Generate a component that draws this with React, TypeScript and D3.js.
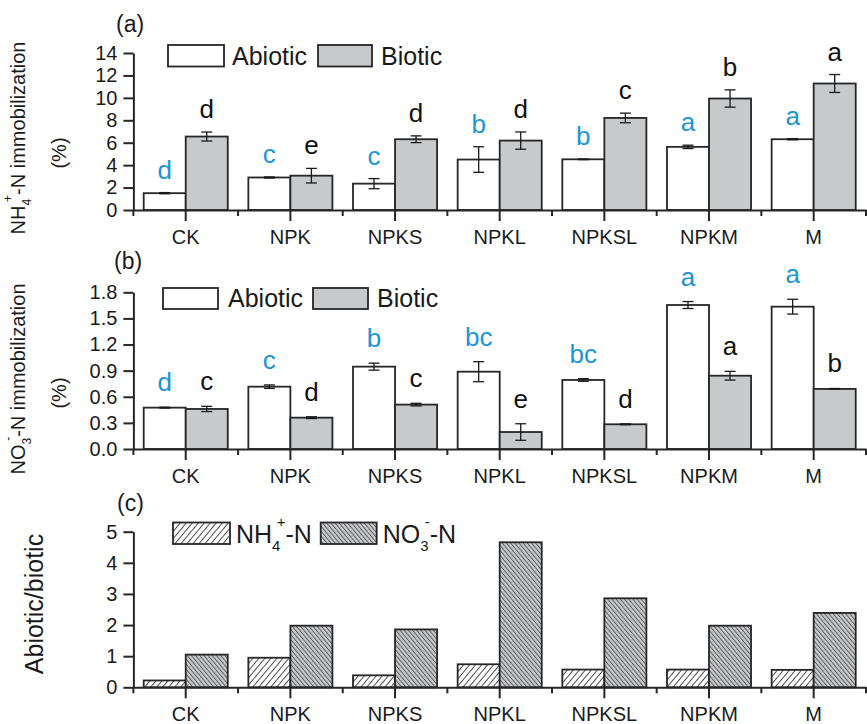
import * as d3 from "d3";
import { useEffect, useRef } from "react";

// categories (treatments)
const categories = ["CK", "NPK", "NPKS", "NPKL", "NPKSL", "NPKM", "M"];

// (a) NH4+-N immobilization (%)
const nh4Abiotic = [1.5, 2.9, 2.35, 4.5, 4.52, 5.63, 6.31];
const nh4AbioticErr = [0.05, 0.05, 0.45, 1.14, 0.03, 0.15, 0.05];
const nh4Biotic = [6.55, 3.06, 6.31, 6.19, 8.21, 9.94, 11.28];
const nh4BioticErr = [0.4, 0.65, 0.3, 0.77, 0.43, 0.77, 0.8];
const nh4AbioticLetters = ["d", "c", "c", "b", "b", "a", "a"];
const nh4BioticLetters = ["d", "e", "d", "d", "c", "b", "a"];

// (b) NO3--N immobilization (%)
const no3Abiotic = [0.475, 0.716, 0.946, 0.888, 0.793, 1.654, 1.635];
const no3AbioticErr = [0.005, 0.02, 0.04, 0.115, 0.015, 0.04, 0.085];
const no3Biotic = [0.46, 0.36, 0.51, 0.195, 0.284, 0.842, 0.69];
const no3BioticErr = [0.03, 0.01, 0.015, 0.095, 0.005, 0.05, 0.005];
const no3AbioticLetters = ["d", "c", "b", "bc", "bc", "a", "a"];
const no3BioticLetters = ["c", "d", "c", "e", "d", "a", "b"];

// (c) abiotic / biotic ratio
const ratioNH4 = [0.22, 0.95, 0.385, 0.74, 0.57, 0.57, 0.56];
const ratioNO3 = [1.05, 1.98, 1.86, 4.66, 2.86, 1.98, 2.39];

const ticksA = [0, 2, 4, 6, 8, 10, 12, 14];
const ticksB = [0, 0.3, 0.6, 0.9, 1.2, 1.5, 1.8];
const ticksC = [0, 1, 2, 3, 4, 5];

const FONT = "'Liberation Sans', Arial, Helvetica, sans-serif";
const INK = "#262626";
const GREY = "#c8c9cb";
const BLUE = "#1b95d8";

// writes NH4+ / NO3- style text with sub and superscript
function chem(text, before, sub, sup, after, size) {
	const small = size * 0.6;
	text.append("tspan").text(before);
	text.append("tspan").attr("font-size", small).attr("dy", size * 0.32).text(sub);
	text.append("tspan").attr("font-size", small).attr("dx", -small * 0.25).attr("dy", -size * 0.95).text(sup);
	text.append("tspan").attr("font-size", size).attr("dy", size * 0.63).text(after);
}

const App = () => {
	const ref = useRef(null);

	useEffect(() => {
		const svg = d3.select(ref.current);
		svg.selectAll("*").remove();

		const defs = svg.append("defs");
		const p1 = defs.append("pattern").attr("id", "hatchNH4")
			.attr("patternUnits", "userSpaceOnUse").attr("width", 4.6).attr("height", 10)
			.attr("patternTransform", "rotate(40)");
		p1.append("rect").attr("width", 4.6).attr("height", 10).attr("fill", "#fff");
		p1.append("line").attr("x1", 0.5).attr("x2", 0.5).attr("y1", 0).attr("y2", 10)
			.attr("stroke", "#333").attr("stroke-width", 0.9);
		const p2 = defs.append("pattern").attr("id", "hatchNO3")
			.attr("patternUnits", "userSpaceOnUse").attr("width", 3.2).attr("height", 10)
			.attr("patternTransform", "rotate(-40)");
		p2.append("rect").attr("width", 3.2).attr("height", 10).attr("fill", GREY);
		p2.append("line").attr("x1", 0.5).attr("x2", 0.5).attr("y1", 0).attr("y2", 10)
			.attr("stroke", "#333").attr("stroke-width", 0.8);

		const x = d3.scaleBand().domain(categories).range([133.4, 866]).padding(0);
		const sub = d3.scaleBand().domain(["s0", "s1"]).range([0, x.bandwidth()])
			.paddingInner(0).paddingOuter(0.245);

		const panels = [
			{
				tag: "(a)", tagPos: [116, 32],
				y: d3.scaleLinear().domain([0, 14]).range([210, 53]),
				ticks: ticksA, fmt: d3.format("d"),
				series: [
					{ values: nh4Abiotic, err: nh4AbioticErr, letters: nh4AbioticLetters, fill: "#fff", color: BLUE },
					{ values: nh4Biotic, err: nh4BioticErr, letters: nh4BioticLetters, fill: GREY, color: "#111" },
				],
				legend: [
					{ box: [168, 45, 56, 21.5], tx: 232, ty: 65, label: "Abiotic", fill: "#fff" },
					{ box: [318, 45, 54, 21.5], tx: 381, ty: 65, label: "Biotic", fill: GREY },
				],
				letterGap: 14,
				ylab: { chem: ["NH", "4", "+", "-N immobilization"], pos: [25, 138], pct: [66, 153] },
			},
			{
				tag: "(b)", tagPos: [114, 269],
				y: d3.scaleLinear().domain([0, 1.8]).range([449, 292.3]),
				ticks: ticksB, fmt: d3.format(".1f"),
				series: [
					{ values: no3Abiotic, err: no3AbioticErr, letters: no3AbioticLetters, fill: "#fff", color: BLUE },
					{ values: no3Biotic, err: no3BioticErr, letters: no3BioticLetters, fill: GREY, color: "#111" },
				],
				legend: [
					{ box: [163, 288, 55, 21], tx: 228, ty: 306.5, label: "Abiotic", fill: "#fff" },
					{ box: [313, 288, 55, 21], tx: 377, ty: 306.5, label: "Biotic", fill: GREY },
				],
				letterGap: 16,
				ylab: { chem: ["NO", "3", "-", "-N immobilization"], pos: [25, 379], pct: [66, 393] },
			},
			{
				tag: "(c)", tagPos: [117, 511],
				y: d3.scaleLinear().domain([0, 5]).range([687.3, 531.7]),
				ticks: ticksC, fmt: d3.format("d"),
				series: [
					{ values: ratioNH4, fill: "url(#hatchNH4)" },
					{ values: ratioNO3, fill: "url(#hatchNO3)" },
				],
				legend: [
					{ box: [173, 522.5, 57, 21.5], tx: 236, ty: 543, chem: ["NH", "4", "+", "-N"], fill: "url(#hatchNH4)" },
					{ box: [320.7, 522.5, 56, 21.5], tx: 382.7, ty: 543, chem: ["NO", "3", "-", "-N"], fill: "url(#hatchNO3)" },
				],
				ylab: { text: "Abiotic/biotic", pos: [43, 604] },
			},
		];

		panels.forEach(p => {
			const y = p.y;
			const y0 = y(0);
			const g = svg.append("g");

			// bars
			p.series.forEach((s, si) => {
				const key = si === 0 ? "s0" : "s1";
				g.selectAll(".bar" + si)
					.data(s.values)
					.enter()
					.append("rect")
					.attr("x", (d, i) => x(categories[i]) + sub(key))
					.attr("y", d => y(d))
					.attr("width", sub.bandwidth())
					.attr("height", d => y0 - y(d))
					.attr("fill", s.fill)
					.attr("stroke", INK)
					.attr("stroke-width", 1.8);

				if (s.err) {
					const cx = i => x(categories[i]) + sub(key) + sub.bandwidth() / 2;
					const eb = g.selectAll(".err" + si).data(s.values).enter().append("g");
					eb.append("line")
						.attr("x1", (d, i) => cx(i)).attr("x2", (d, i) => cx(i))
						.attr("y1", (d, i) => y(d + s.err[i])).attr("y2", (d, i) => y(d - s.err[i]));
					eb.append("line")
						.attr("x1", (d, i) => cx(i) - 5.5).attr("x2", (d, i) => cx(i) + 5.5)
						.attr("y1", (d, i) => y(d + s.err[i])).attr("y2", (d, i) => y(d + s.err[i]));
					eb.append("line")
						.attr("x1", (d, i) => cx(i) - 5.5).attr("x2", (d, i) => cx(i) + 5.5)
						.attr("y1", (d, i) => y(d - s.err[i])).attr("y2", (d, i) => y(d - s.err[i]));
					eb.selectAll("line").attr("stroke", "#1a1a1a").attr("stroke-width", 1.3);

					g.selectAll(".let" + si)
						.data(s.letters)
						.enter()
						.append("text")
						.attr("x", (d, i) => cx(i))
						.attr("y", (d, i) => y(s.values[i] + s.err[i]) - p.letterGap)
						.attr("text-anchor", "middle")
						.attr("font-family", FONT)
						.attr("font-size", 26)
						.attr("fill", s.color)
						.text(d => d);
				}
			});

			// y axis
			const ya = svg.append("g")
				.attr("transform", `translate(${x.range()[0]},0)`)
				.call(d3.axisLeft(y).tickValues(p.ticks).tickFormat(p.fmt).tickSize(10).tickSizeOuter(0).tickPadding(6));

			// x axis: major ticks at category centres, minor ticks at boundaries
			const xa = svg.append("g")
				.attr("transform", `translate(0,${y0})`)
				.call(d3.axisBottom(x).tickSize(11).tickSizeOuter(0).tickPadding(9));
			const bounds = categories.map(c => x(c)).concat([x.range()[1]]);
			xa.selectAll(".minor")
				.data(bounds)
				.enter()
				.append("line")
				.attr("x1", d => d).attr("x2", d => d)
				.attr("y1", 0).attr("y2", 6)
				.attr("stroke", INK).attr("stroke-width", 2);

			[ya, xa].forEach(a => {
				a.select(".domain").attr("stroke", INK).attr("stroke-width", 2);
				a.selectAll(".tick line").attr("stroke", INK).attr("stroke-width", 2);
				a.selectAll("text").attr("font-family", FONT).attr("font-size", 20).attr("fill", "#1a1a1a");
			});

			// panel tag
			svg.append("text")
				.attr("x", p.tagPos[0]).attr("y", p.tagPos[1])
				.attr("font-family", FONT).attr("font-size", 23).attr("fill", "#1a1a1a")
				.text(p.tag);

			// legend
			p.legend.forEach(l => {
				svg.append("rect")
					.attr("x", l.box[0]).attr("y", l.box[1]).attr("width", l.box[2]).attr("height", l.box[3])
					.attr("fill", l.fill).attr("stroke", INK).attr("stroke-width", 1.8);
				const t = svg.append("text")
					.attr("x", l.tx).attr("y", l.ty)
					.attr("font-family", FONT).attr("font-size", 25).attr("fill", "#1a1a1a");
				if (l.chem) chem(t, l.chem[0], l.chem[1], l.chem[2], l.chem[3], 25);
				else t.text(l.label);
			});

			// y label
			const yl = p.ylab;
			if (yl.chem) {
				const t = svg.append("text")
					.attr("transform", `translate(${yl.pos[0]},${yl.pos[1]}) rotate(-90)`)
					.attr("text-anchor", "middle")
					.attr("font-family", FONT).attr("font-size", 20).attr("fill", "#1a1a1a");
				chem(t, yl.chem[0], yl.chem[1], yl.chem[2], yl.chem[3], 20);
				svg.append("text")
					.attr("transform", `translate(${yl.pct[0]},${yl.pct[1]}) rotate(-90)`)
					.attr("text-anchor", "middle")
					.attr("font-family", FONT).attr("font-size", 20).attr("fill", "#1a1a1a")
					.text("(%)");
			} else {
				svg.append("text")
					.attr("transform", `translate(${yl.pos[0]},${yl.pos[1]}) rotate(-90)`)
					.attr("text-anchor", "middle")
					.attr("font-family", FONT).attr("font-size", 25).attr("fill", "#1a1a1a")
					.text(yl.text);
			}
		});
	}, []);

	return (
		<svg ref={ref} width={867} height={724}
			style={{ position: "absolute", left: 0, top: 0, background: "#fff" }}></svg>
	);
};

export default App;
